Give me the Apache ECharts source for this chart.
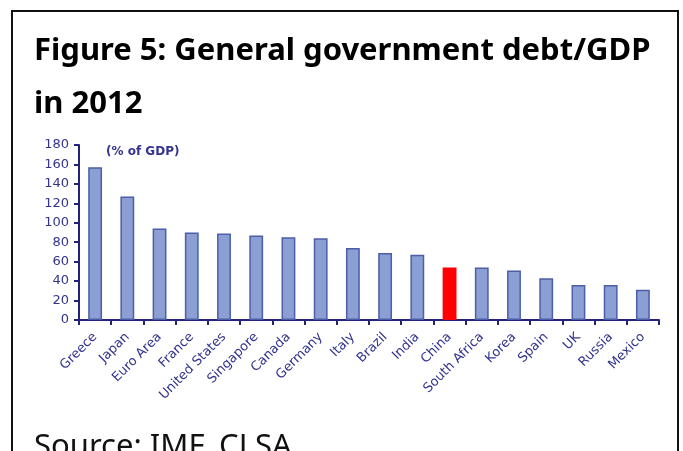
<!DOCTYPE html>
<html>
<head>
<meta charset="utf-8">
<script src="https://cdn.jsdelivr.net/npm/echarts@6/dist/echarts.min.js"></script>
<style>
  html, body { margin: 0; padding: 0; background: #ffffff; }
  #chart { width: 683px; height: 451px; }
</style>
</head>
<body>
<div id="chart"></div>
<script>
// General government debt as % of GDP, 2012
const countries = ['Greece', 'Japan', 'Euro Area', 'France', 'United States', 'Singapore',
  'Canada', 'Germany', 'Italy', 'Brazil', 'India', 'China', 'South Africa', 'Korea',
  'Spain', 'UK', 'Russia', 'Mexico'];
const debtToGdp = [157, 127, 94, 90, 89, 87, 85, 84, 74, 69, 67, 54, 54, 51, 43, 36, 36, 31];
const highlighted = 'China';
const yTicks = [0, 20, 40, 60, 80, 100, 120, 140, 160, 180];

const navy = '#23237e';
const labelNavy = '#34348f';
const barFill = '#8c9fd5';
const barEdge = '#4d5ea6';

const chart = echarts.init(document.getElementById('chart'), null, { renderer: 'canvas' });

chart.setOption({
  animation: false,
  backgroundColor: '#ffffff',
  title: {
    text: 'Figure 5: General government debt/GDP\nin 2012',
    left: 34,
    top: 25,
    padding: 0,
    textStyle: {
      fontFamily: '"Noto Sans", "Open Sans", sans-serif',
      fontWeight: 'bold',
      fontSize: 31,
      lineHeight: 53,
      color: '#000000'
    }
  },
  grid: { left: 79, right: 24, top: 145, bottom: 131, containLabel: false },
  xAxis: {
    type: 'category',
    data: countries,
    boundaryGap: true,
    axisLine: { lineStyle: { color: navy, width: 2 } },
    axisTick: { show: true, alignWithLabel: false, length: 5, lineStyle: { color: navy, width: 2 } },
    axisLabel: {
      interval: 0,
      rotate: 45,
      margin: 15,
      color: labelNavy,
      fontFamily: '"DejaVu Sans", Verdana, sans-serif',
      fontSize: 13
    }
  },
  yAxis: {
    type: 'value',
    min: yTicks[0],
    max: yTicks[yTicks.length - 1],
    interval: yTicks[1] - yTicks[0],
    splitLine: { show: false },
    axisLine: { show: true, lineStyle: { color: navy, width: 2 } },
    axisTick: { show: true, length: 5, lineStyle: { color: navy, width: 2 } },
    axisLabel: {
      margin: 10,
      color: labelNavy,
      fontFamily: '"DejaVu Sans", Verdana, sans-serif',
      fontSize: 13
    }
  },
  graphic: [
    {
      type: 'rect',
      shape: { x: 12, y: 11, width: 666, height: 470 },
      style: { fill: 'none', stroke: '#111111', lineWidth: 2 },
      silent: true
    },
    {
      type: 'text',
      left: 106,
      top: 146,
      style: {
        text: '(% of GDP)',
        fill: labelNavy,
        font: 'bold 12px "DejaVu Sans", Verdana, sans-serif'
      }
    },
    {
      type: 'text',
      left: 34,
      top: 432,
      style: {
        text: 'Source: IMF, CLSA',
        fill: '#111111',
        font: '31px "Noto Sans", "Open Sans", sans-serif'
      }
    }
  ],
  series: [
    {
      type: 'bar',
      barWidth: '43%',
      data: countries.map((c, i) => ({
        value: debtToGdp[i],
        itemStyle: c === highlighted
          ? { color: '#ff0000', borderWidth: 0 }
          : { color: barFill, borderColor: barEdge, borderWidth: 1.5 }
      }))
    }
  ]
});
</script>
</body>
</html>
